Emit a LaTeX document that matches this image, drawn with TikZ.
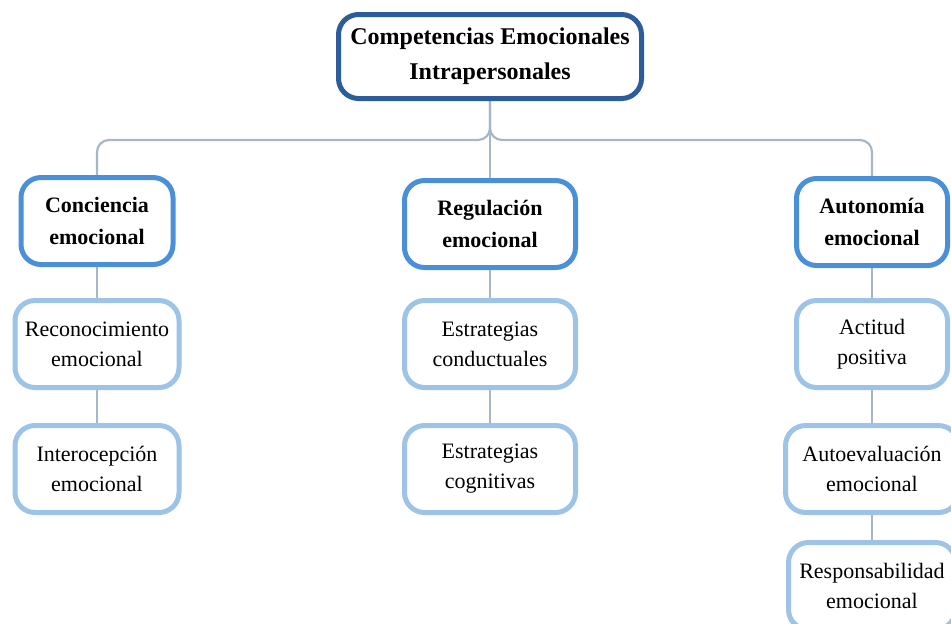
\documentclass[tikz,border=0pt]{standalone}
\usepackage{fontspec}
\setmainfont{Liberation Serif}
\usetikzlibrary{positioning,backgrounds}
\definecolor{cDark}{HTML}{2C5C99}
\definecolor{cMid}{HTML}{4A90D9}
\definecolor{cLight}{HTML}{9DC3E6}
\definecolor{cLine}{HTML}{A8B7C7}

\begin{document}
\begin{tikzpicture}[x=0.5pt,y=-0.5pt,
    raiz/.style={draw=cDark,line width=2.5pt,rounded corners=10pt,fill=white,align=center,
      minimum width=151.5pt,minimum height=42pt,inner sep=0pt,
      font=\fontsize{12}{17.5}\selectfont\bfseries},
    rama/.style={draw=cMid,line width=2.5pt,rounded corners=10pt,fill=white,align=center,
      minimum height=43.5pt,inner sep=0pt,font=\fontsize{11}{16}\selectfont\bfseries},
    hoja/.style={draw=cLight,line width=2.5pt,rounded corners=10pt,fill=white,align=center,
      minimum height=43.5pt,inner sep=0pt,font=\fontsize{11}{15}\selectfont},
    conn/.style={draw=cLine,line width=1.1pt,rounded corners=6pt}]
  \useasboundingbox (0,0) rectangle (951,623);
  % raiz
  \node[raiz] (cei) at (490,56.5) {Competencias Emocionales\\Intrapersonales};
  % ramas
  \node[rama,minimum width=76pt] (con) at (97,221) {Conciencia\\emocional};
  \node[rama,minimum width=85.5pt] (reg) at (490,224) {Regulación\\emocional};
  \node[rama,minimum width=75.5pt] (aut) at (872,222) {Autonomía\\emocional};
  % hojas
  \node[hoja,minimum width=82pt] (rec) at (97,344) {Reconocimiento\\emocional};
  \node[hoja,minimum width=82pt] (int) at (97,469) {Interocepción\\emocional};
  \node[hoja,minimum width=85.5pt] (ecd) at (490,344) {Estrategias\\conductuales};
  \node[hoja,minimum width=85.5pt] (ecg) at (490,469) {Estrategias\\cognitivas};
  \node[hoja,minimum width=75.5pt] (act) at (872,344) {Actitud\\positiva};
  \node[hoja,minimum width=86.5pt] (aev) at (872,469) {Autoevaluación\\emocional};
  \node[hoja,minimum width=83.5pt] (res) at (872,586) {Responsabilidad\\emocional};
  % conectores
  \coordinate (split) at (490,140);
  \begin{scope}[on background layer]
  \draw[conn] (cei.south) -- (split) -| (con.north);
  \draw[conn] (cei.south) -- (split) -| (aut.north);
  \draw[conn] (cei.south) -- (reg.north);
  \draw[conn] (con.south) -- (rec.north);
  \draw[conn] (rec.south) -- (int.north);
  \draw[conn] (reg.south) -- (ecd.north);
  \draw[conn] (ecd.south) -- (ecg.north);
  \draw[conn] (aut.south) -- (act.north);
  \draw[conn] (act.south) -- (aev.north);
  \draw[conn] (aev.south) -- (res.north);
  \end{scope}
\end{tikzpicture}
\end{document}
